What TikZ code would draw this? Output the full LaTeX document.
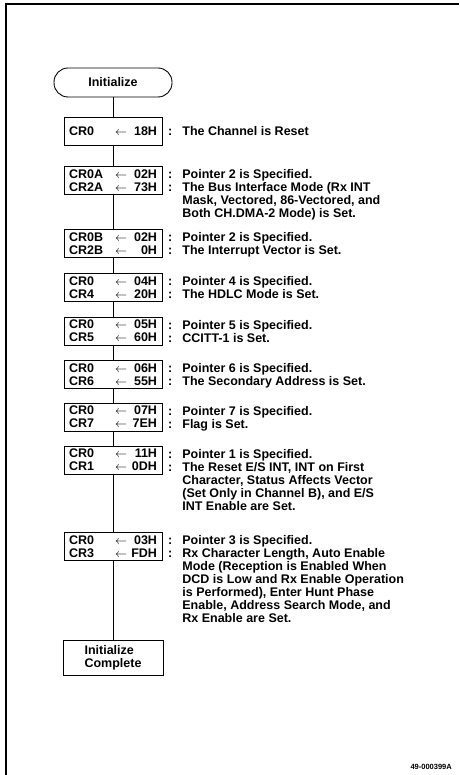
\documentclass[tikz,border=0pt]{standalone}
\usepackage{fontspec}
\setmainfont{Liberation Sans}
\usetikzlibrary{positioning}
\newcommand{\regrow}[2]{\makebox[42pt][l]{#1}\makebox[20pt]{$\leftarrow$}\makebox[26pt][r]{#2}}
\newcommand{\regnote}[1]{\begin{tabular}[t]{@{}l@{\hspace{10pt}}l@{}}#1\end{tabular}}

\begin{document}
\begin{tikzpicture}[x=1pt,y=-1pt,
    font=\fontsize{12.5}{13}\selectfont\bfseries,
    regbox/.style={draw,line width=0.9pt,minimum width=98pt,minimum height=28pt,
                   inner sep=0pt,align=left},
    startbox/.style={draw,line width=0.9pt,rounded corners=14pt,
                     minimum width=118pt,minimum height=29pt},
    note/.style={anchor=base west,inner sep=0pt},
    flow/.style={line width=0.8pt}]
  \useasboundingbox (0,0) rectangle (459,775);
  % frame
  \draw[line width=1.1pt] (6,775) -- (6,4) -- (459,4);

  \node[startbox] (init) at (113,82.5) {Initialize};

  \node[regbox] (b1) at (113,131) {\regrow{CR0}{18H}};
  \node[note] (n1) at (168,135.5) {\regnote{: & The Channel is Reset}};

  \node[regbox] (b2) at (113,180.5) {\regrow{CR0A}{02H}\\\regrow{CR2A}{73H}};
  \node[note] (n2) at (168,178.5) {\regnote{: & Pointer 2 is Specified.\\
    : & The Bus Interface Mode (Rx INT\\
      & Mask, Vectored, 86-Vectored, and\\
      & Both CH.DMA-2 Mode) is Set.}};

  \node[regbox] (b3) at (113,243.5) {\regrow{CR0B}{02H}\\\regrow{CR2B}{0H}};
  \node[note] (n3) at (168,241.5) {\regnote{: & Pointer 2 is Specified.\\
    : & The Interrupt Vector is Set.}};

  \node[regbox] (b4) at (113,287.5) {\regrow{CR0}{04H}\\\regrow{CR4}{20H}};
  \node[note] (n4) at (168,285.5) {\regnote{: & Pointer 4 is Specified.\\
    : & The HDLC Mode is Set.}};

  \node[regbox] (b5) at (113,331) {\regrow{CR0}{05H}\\\regrow{CR5}{60H}};
  \node[note] (n5) at (168,329) {\regnote{: & Pointer 5 is Specified.\\
    : & CCITT-1 is Set.}};

  \node[regbox] (b6) at (113,374.5) {\regrow{CR0}{06H}\\\regrow{CR6}{55H}};
  \node[note] (n6) at (168,372.5) {\regnote{: & Pointer 6 is Specified.\\
    : & The Secondary Address is Set.}};

  \node[regbox] (b7) at (113,417) {\regrow{CR0}{07H}\\\regrow{CR7}{7EH}};
  \node[note] (n7) at (168,415) {\regnote{: & Pointer 7 is Specified.\\
    : & Flag is Set.}};

  \node[regbox] (b8) at (113,460) {\regrow{CR0}{11H}\\\regrow{CR1}{0DH}};
  \node[note] (n8) at (168,458) {\regnote{: & Pointer 1 is Specified.\\
    : & The Reset E/S INT, INT on First\\
      & Character, Status Affects Vector\\
      & (Set Only in Channel B), and E/S\\
      & INT Enable are Set.}};

  \node[regbox] (b9) at (113,546.5) {\regrow{CR0}{03H}\\\regrow{CR3}{FDH}};
  \node[note] (n9) at (168,544.5) {\regnote{: & Pointer 3 is Specified.\\
    : & Rx Character Length, Auto Enable\\
      & Mode (Reception is Enabled When\\
      & DCD is Low and Rx Enable Operation\\
      & is Performed), Enter Hunt Phase\\
      & Enable, Address Search Mode, and\\
      & Rx Enable are Set.}};

  \node[regbox,minimum width=100pt,minimum height=35pt] (done) at (113,657.5)
    {Initialize\\Complete};

  \foreach \a/\b in {init/b1,b1/b2,b2/b3,b3/b4,b4/b5,b5/b6,b6/b7,b7/b8,b8/b9,b9/done}
    \draw[flow] (\a) -- (\b);

  \node[anchor=base east,inner sep=0pt,font=\fontsize{7.5}{9}\selectfont\bfseries]
    (fig) at (452,769) {49-000399A};
\end{tikzpicture}
\end{document}
